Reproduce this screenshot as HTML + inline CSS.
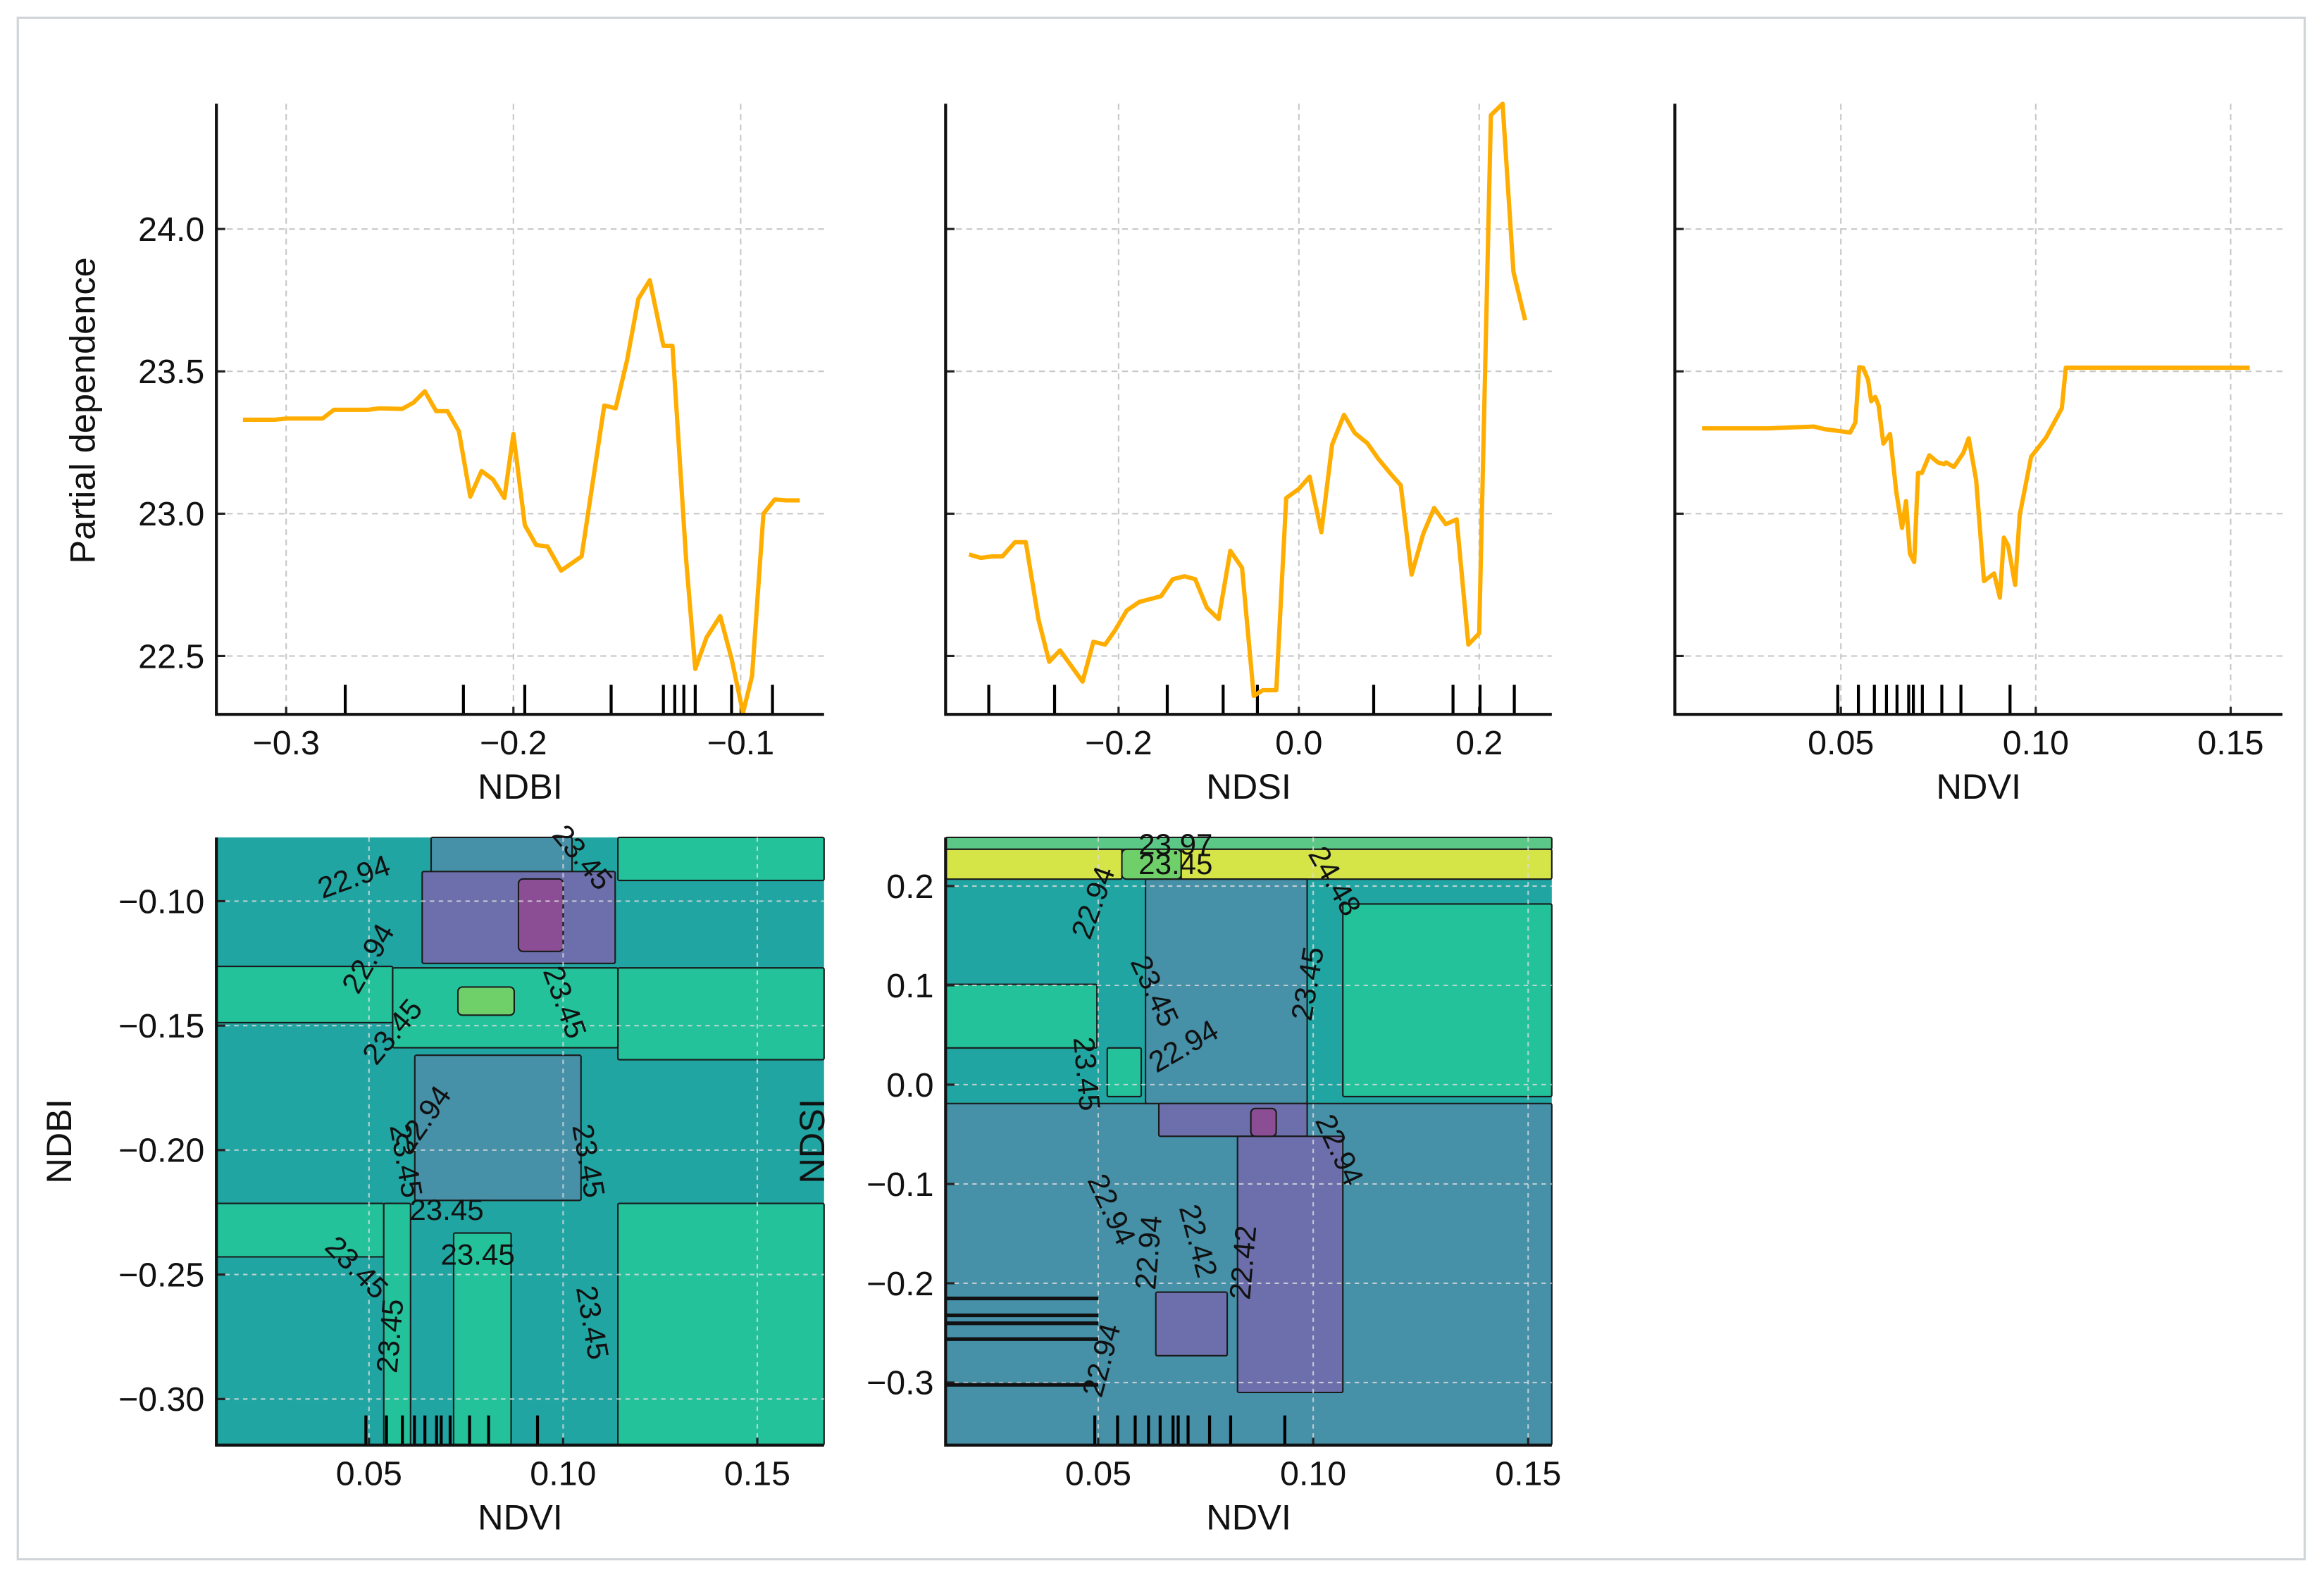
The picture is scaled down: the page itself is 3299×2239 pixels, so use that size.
<!DOCTYPE html>
<html><head><meta charset="utf-8"><style>
html,body{margin:0;padding:0;background:#fff}
svg{display:block}
text{font-family:"Liberation Sans",sans-serif;fill:#111}
</style></head><body>
<svg id="c" xmlns="http://www.w3.org/2000/svg" width="3299" height="2239" viewBox="0 0 1568 1064" preserveAspectRatio="none">
<rect x="12" y="12" width="1543" height="1040" fill="#fff" stroke="#d0d4d8" stroke-width="1.5"/>
</svg>
<script>
// ---------- data ----------
const ndbiX=[-0.319,-0.305,-0.300,-0.284,-0.279,-0.264,-0.259,-0.249,-0.244,-0.239,-0.234,-0.229,-0.224,-0.219,-0.214,-0.209,-0.204,-0.200,-0.195,-0.190,-0.185,-0.179,-0.170,-0.160,-0.155,-0.150,-0.145,-0.140,-0.134,-0.130,-0.124,-0.120,-0.115,-0.109,-0.104,-0.099,-0.095,-0.090,-0.085,-0.080,-0.074];
const ndbiY=[23.33,23.33,23.334,23.334,23.365,23.365,23.37,23.368,23.39,23.43,23.36,23.36,23.29,23.06,23.15,23.12,23.055,23.28,22.96,22.89,22.885,22.80,22.85,23.38,23.37,23.54,23.755,23.82,23.59,23.59,22.84,22.455,22.565,22.64,22.49,22.30,22.43,23.0,23.05,23.047,23.047];
const ndbiRug=[-0.274,-0.222,-0.195,-0.157,-0.134,-0.129,-0.125,-0.120,-0.104,-0.086];
const ndsiX=[-0.366,-0.353,-0.340,-0.329,-0.315,-0.303,-0.289,-0.277,-0.265,-0.240,-0.228,-0.215,-0.204,-0.191,-0.177,-0.165,-0.153,-0.140,-0.127,-0.115,-0.102,-0.089,-0.076,-0.063,-0.050,-0.040,-0.025,-0.014,0.0,0.012,0.025,0.037,0.050,0.062,0.076,0.088,0.101,0.113,0.125,0.138,0.150,0.163,0.175,0.188,0.200,0.213,0.226,0.238,0.251];
const ndsiY=[22.857,22.845,22.85,22.85,22.90,22.90,22.63,22.48,22.52,22.41,22.55,22.54,22.59,22.66,22.69,22.70,22.71,22.77,22.78,22.77,22.67,22.63,22.87,22.81,22.36,22.38,22.38,23.055,23.087,23.13,22.935,23.243,23.347,23.283,23.247,23.193,23.143,23.10,22.786,22.93,23.02,22.963,22.98,22.54,22.58,24.40,24.44,23.85,23.68];
const ndsiRug=[-0.344,-0.271,-0.146,-0.084,-0.046,0.083,0.171,0.201,0.239];
const ndviX=[0.0144,0.0313,0.0431,0.0457,0.0498,0.0524,0.0537,0.0547,0.0557,0.0570,0.0578,0.0588,0.0597,0.0609,0.0626,0.0642,0.0657,0.0667,0.0677,0.0688,0.0698,0.0708,0.0727,0.0749,0.0765,0.0770,0.0790,0.0814,0.0828,0.0847,0.0867,0.0893,0.0908,0.0918,0.0929,0.0947,0.0959,0.0988,0.1026,0.1067,0.1077,0.1549];
const ndviY=[23.30,23.30,23.306,23.297,23.29,23.285,23.32,23.515,23.513,23.47,23.395,23.41,23.38,23.246,23.28,23.077,22.95,23.044,22.86,22.83,23.143,23.143,23.205,23.18,23.174,23.18,23.164,23.213,23.265,23.118,22.763,22.79,22.705,22.916,22.887,22.75,22.995,23.20,23.267,23.37,23.513,23.513];
const ndviRug=[0.0492,0.0545,0.0586,0.0617,0.0644,0.0674,0.0686,0.0709,0.0759,0.0808,0.0934];
const pdTicks=[22.5,23.0,23.5,24.0];
const ndbiTicks=[-0.3,-0.2,-0.1];
const ndsiTicks=[-0.2,0.0,0.2];
const ndviTicks=[0.05,0.10,0.15];
const ndbiTicks2=[-0.10,-0.15,-0.20,-0.25,-0.30];
const ndsiTicks2=[0.2,0.1,0.0,-0.1,-0.2,-0.3];
// heatmap regions: [x0,x1,y0,y1,level]
const regionsA=[[0.1141,0.1672,-0.0744,-0.0917,'g'],[0.1141,0.1672,-0.1268,-0.1637,'g'],[0.1141,0.1672,-0.2214,-0.3185,'g'],[0.0107,0.0561,-0.1262,-0.1488,'g'],[0.0561,0.1141,-0.1268,-0.1589,'g'],[0.0107,0.0538,-0.2214,-0.2429,'g'],[0.0538,0.0607,-0.2214,-0.3185,'g'],[0.0718,0.0866,-0.2333,-0.3185,'g'],[0.0660,0.1023,-0.0744,-0.0893,'b'],[0.0618,0.1046,-0.1619,-0.2202,'b'],[0.0637,0.1134,-0.0881,-0.125,'p'],[0.0885,0.1000,-0.0911,-0.1202,'m'],[0.0729,0.0874,-0.1345,-0.1458,'lg']];
const regionsB=[[0.0145,0.1555,-0.019,-0.363,'b'],[0.1069,0.1555,0.182,-0.012,'g'],[0.0145,0.0497,0.101,0.037,'g'],[0.0145,0.1555,0.249,0.237,'tg'],[0.0145,0.0555,0.237,0.207,'y'],[0.0555,0.0693,0.237,0.207,'lg'],[0.0693,0.1555,0.237,0.207,'y'],[0.0610,0.0986,0.207,-0.019,'b'],[0.0641,0.0986,-0.019,-0.052,'p'],[0.0824,0.1069,-0.052,-0.310,'p'],[0.0634,0.0800,-0.209,-0.273,'p'],[0.0855,0.0914,-0.024,-0.052,'m'],[0.0521,0.0600,0.037,-0.012,'g']];
const colors={t:'#21a5a2',g:'#23c29b',b:'#4690a8',p:'#6c6fab',m:'#8b4e95',lg:'#6fd06a',y:'#d5e548',tg:'#5cc887'};
const labelsA=[[0.047,-0.094,'22.94',-20],[0.052,-0.125,'22.94',-60],[0.058,-0.155,'23.45',-50],[0.098,-0.142,'23.45',70],[0.066,-0.19,'22.94',-55],[0.057,-0.205,'23.45',80],[0.104,-0.205,'23.45',80],[0.070,-0.228,'23.45',0],[0.078,-0.246,'23.45',0],[0.045,-0.250,'23.45',45],[0.105,-0.27,'23.45',80],[0.058,-0.275,'23.45',-85],[0.103,-0.085,'23.45',50]];
const labelsB=[[0.068,0.232,'23.97',0],[0.068,0.212,'23.45',0],[0.051,0.180,'22.94',-70],[0.061,0.09,'23.45',65],[0.101,0.10,'23.45',-80],[0.045,0.01,'23.45',85],[0.071,0.03,'22.94',-30],[0.104,-0.07,'22.94',65],[0.051,-0.13,'22.94',65],[0.064,-0.17,'22.94',-85],[0.071,-0.16,'22.42',75],[0.086,-0.18,'22.42',-85],[0.053,-0.28,'22.94',-75],[0.103,0.20,'24.48',60]];
// ---------- drawing ----------
const NS='http://www.w3.org/2000/svg';
const svg=document.getElementById('c');
function mk(tag,at,parent){const e=document.createElementNS(NS,tag);for(const k in at)e.setAttribute(k,at[k]);(parent||svg).appendChild(e);return e;}
function lin(d0,d1,p0,p1){return v=>p0+(v-d0)*(p1-p0)/(d1-d0);}
function txt(x,y,s,size,anchor,rot,parent){const t=mk('text',{x:x,y:y,'font-size':size,'text-anchor':anchor||'middle'},parent);if(rot)t.setAttribute('transform','rotate('+rot+' '+x+' '+y+')');t.textContent=s;return t;}
const TS=23, LS=24;

function topPanel(name,L,R,xs,ys,rug,xt,xfmt,xlabel,showY){
  const g=mk('g',{});
  
  
  const T=70,B=482;
  const x=lin(xs[0],xs[1],L,R), y=lin(22.295,24.44,B,T);
  pdTicks.forEach(v=>{const l=mk('line',{x1:L,x2:R,y1:y(v),y2:y(v),stroke:'#c8c8c8','stroke-width':1,'stroke-dasharray':'4,3'},g);
    
    mk('line',{x1:L,x2:L+6,y1:y(v),y2:y(v),stroke:'#222','stroke-width':1.5},g);
    if(showY){const t=txt(L-8,y(v)+8,v.toFixed(1),TS,'end',0,g);}});
  xt.forEach(v=>{const l=mk('line',{x1:x(v),x2:x(v),y1:T,y2:B,stroke:'#c8c8c8','stroke-width':1,'stroke-dasharray':'4,3'},g);
    
    mk('line',{x1:x(v),x2:x(v),y1:B,y2:B-5,stroke:'#222','stroke-width':1.5},g);
    const t=txt(x(v),B+27,xfmt(v),TS,'middle',0,g);});
  rug.forEach(v=>{const r=mk('line',{x1:x(v),x2:x(v),y1:B,y2:B-20,stroke:'#000','stroke-width':2},g);
    });
  const pts=xs[2].map((v,i)=>x(v).toFixed(1)+','+y(ys[i]).toFixed(1)).join(' ');
  const pl=mk('polyline',{points:pts,fill:'none',stroke:'#ffad00','stroke-width':2.9,'stroke-linejoin':'round'},g);
  
  mk('path',{d:`M${L},${T} V${B} H${R}`,fill:'none',stroke:'#111','stroke-width':2},g);
  const xl=txt((L+R)/2,B+57,xlabel,LS,'middle',0,g);
}
const m=v=>(v<0?'\u2212':'')+Math.abs(v);
topPanel('ndbi',146,556,[-0.3307,-0.0633,ndbiX],ndbiY,ndbiRug,ndbiTicks,v=>m(+v.toFixed(1)),'NDBI',true);
topPanel('ndsi',638,1047,[-0.3919,0.2806,ndsiX],ndsiY,ndsiRug,ndsiTicks,v=>m(+v.toFixed(1)),'NDSI',false);
topPanel('ndvi',1130,1540,[0.0074,0.1633,ndviX],ndviY,ndviRug,ndviTicks,v=>v.toFixed(2),'NDVI',false);
svg.querySelectorAll('text').forEach(t=>{if(t.textContent==='0')t.textContent='0.0';});

function heat(name,L,R,T,B,xd,yd,regions,labels,yt,yfmt,ylabel,ylx){
  const g=mk('g',{});
  
  
  const x=lin(xd[0],xd[1],L,R), y=lin(yd[0],yd[1],T,B);
  const bg=mk('rect',{x:L,y:T,width:R-L,height:B-T,fill:colors.t},g);
  
  regions.forEach(r=>{const x0=x(r[0]),x1=x(r[1]),y0=y(r[2]),y1=y(r[3]);
    const e=mk('rect',{x:Math.min(x0,x1),y:Math.min(y0,y1),width:Math.abs(x1-x0),height:Math.abs(y1-y0),fill:colors[r[4]],stroke:'#1a1a1a','stroke-width':1,rx:r[4]==='lg'||r[4]==='m'?3:1},g);
    });
  ndviTicks.forEach(v=>{mk('line',{x1:x(v),x2:x(v),y1:T,y2:B,stroke:'#ddd','stroke-width':1,'stroke-dasharray':'3,3',opacity:0.8},g);
    mk('line',{x1:x(v),x2:x(v),y1:B,y2:B-5,stroke:'#222','stroke-width':1.5},g);
    const t=txt(x(v),B+27,v.toFixed(2),TS,'middle',0,g);});
  yt.forEach(v=>{mk('line',{x1:L,x2:R,y1:y(v),y2:y(v),stroke:'#ddd','stroke-width':1,'stroke-dasharray':'3,3',opacity:0.8},g);
    mk('line',{x1:L,x2:L+6,y1:y(v),y2:y(v),stroke:'#222','stroke-width':1.5},g);
    const t=txt(L-8,y(v)+8,yfmt(v),TS,'end',0,g);});
  labels.forEach(l=>{const t=txt(x(l[0]),y(l[1]),l[2],20,'middle',l[3],g);});
  ndviRug.forEach(v=>{const r=mk('line',{x1:x(v),x2:x(v),y1:B,y2:B-20,stroke:'#000','stroke-width':2},g);
    });
  mk('path',{d:`M${L},${T} V${B} H${R}`,fill:'none',stroke:'#111','stroke-width':2},g);
  const xl=txt((L+R)/2,B+57,'NDVI',LS,'middle',0,g);
  const yl=txt(ylx,(T+B)/2,ylabel,LS,'middle',-90,g);
}
heat('ndbi-ndvi',146,556,565,975,[0.0107,0.1672],[-0.0744,-0.3185],regionsA,labelsA,ndbiTicks2,v=>m(+v.toFixed(2)).replace(/\.(\d)$/,'.$10'),'NDBI',48);
heat('ndsi-ndvi',638,1047,565,975,[0.0145,0.1555],[0.249,-0.363],regionsB,labelsB,ndsiTicks2,v=>{const s=m(+v.toFixed(1));return s==='0'?'0.0':s;},'NDSI',556);
const stripeYs=[-0.215,-0.232,-0.24,-0.256,-0.302];
stripeYs.forEach(v=>{const yy=732-v*670;const s=mk('line',{x1:638,x2:741,y1:yy,y2:yy,stroke:'#111','stroke-width':2.5});
  });
const pdl=txt(64,277,'Partial dependence',LS,'middle',-90);


</script>
</body></html>
